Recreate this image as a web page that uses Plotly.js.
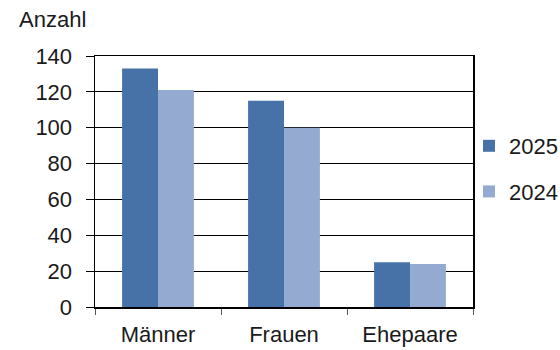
<!DOCTYPE html>
<html>
<head>
<meta charset="utf-8">
<script src="https://cdn.plot.ly/plotly-3.0.1.min.js"></script>
<style>html,body{margin:0;padding:0;background:#fff;}#chart{width:560px;height:350px;}</style>
</head>
<body>
<div id="chart"></div>
<script>
const categories = ["Männer", "Frauen", "Ehepaare"];
const series2025 = [133, 115, 25];
const series2024 = [121, 100, 24];
const seriesNames = ["2025", "2024"];
const yTicks = [0, 20, 40, 60, 80, 100, 120, 140];

const FONT = "Liberation Sans, Arial, sans-serif";

const traces = [
  {type: "bar", name: seriesNames[0], x: categories, y: series2025,
   marker: {color: "#4672a8"}, legendgroup: "a"},
  {type: "bar", name: seriesNames[1], x: categories, y: series2024,
   marker: {color: "#95aad1"}, legendgroup: "b"}
];

const layout = {
  width: 560, height: 350,
  margin: {l: 95, r: 87, t: 56, b: 43, autoexpand: false},
  paper_bgcolor: "#fff", plot_bgcolor: "#fff",
  font: {family: FONT, size: 22, color: "#1a1a1a"},
  barmode: "group",
  bargap: 0.43,
  bargroupgap: 0,
  showlegend: true,
  legend: {xref: "container", yref: "container",
           x: 469/560, xanchor: "left", y: 1 - 125/350, yanchor: "top",
           traceorder: "grouped", tracegroupgap: 14,
           font: {family: FONT, size: 22, color: "#1a1a1a"},
           bgcolor: "rgba(0,0,0,0)"},
  xaxis: {
    type: "category",
    showline: true, linecolor: "#000", linewidth: 1.5, mirror: true,
    ticks: "outside", tickson: "boundaries", ticklen: 6, tickcolor: "#555", tickwidth: 1,
    showgrid: false, ticklabelstandoff: 7,
    tickfont: {family: FONT, size: 22, color: "#1a1a1a"}
  },
  yaxis: {
    range: [0, 140], tickvals: yTicks, ticktext: yTicks.map(String),
    showline: true, linecolor: "#000", linewidth: 1.5, mirror: true,
    ticks: "outside", ticklen: 8, tickcolor: "#000", tickwidth: 1,
    showgrid: true, gridcolor: "#000", gridwidth: 1,
    zeroline: false, ticklabelstandoff: 9,
    tickfont: {family: FONT, size: 22, color: "#1a1a1a"}
  },
  annotations: [{
    text: "Anzahl", xref: "paper", yref: "paper",
    x: -78/378, y: 1 + 36/251, xanchor: "left", yanchor: "middle",
    showarrow: false, font: {family: FONT, size: 22, color: "#1a1a1a"}
  }]
};

Plotly.newPlot("chart", traces, layout, {staticPlot: true, displayModeBar: false});
</script>
</body>
</html>
